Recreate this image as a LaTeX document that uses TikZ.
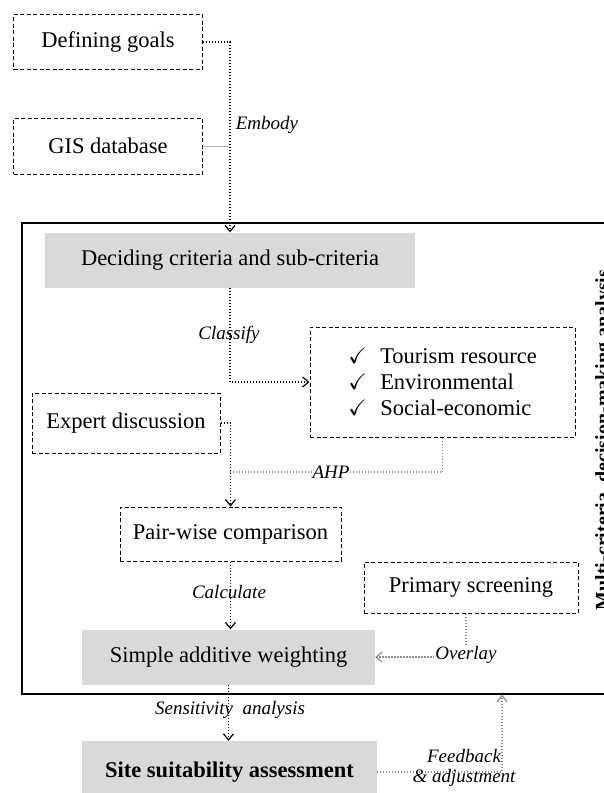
\documentclass[tikz,border=0pt]{standalone}
\usepackage{fontspec}
\setmainfont{Liberation Serif}
\usepackage{amssymb}
\usetikzlibrary{arrows.meta}
\definecolor{boxgray}{RGB}{217,217,217}
\definecolor{dotgray}{RGB}{140,140,140}
\begin{document}
\begin{tikzpicture}[x=1pt,y=-1pt,
  mainfont/.style={font=\fontsize{22.5}{26}\selectfont},
  dbox/.style={draw, dash pattern=on 4pt off 2.5pt, line width=1pt, mainfont, inner sep=0pt},
  gbox/.style={fill=boxgray, mainfont, inner sep=0pt},
  lbl/.style={font=\fontsize{19}{22}\selectfont\itshape, inner sep=1pt},
  tip/.style={-{Straight Barb[length=6pt,width=10pt,line width=1.2pt]}},
  dotb/.style={line width=1.1pt, dash pattern=on 1.1pt off 1.9pt},
  dotg/.style={line width=1.1pt, dash pattern=on 1.1pt off 1.9pt, draw=dotgray},
]
\useasboundingbox (0,0) rectangle (604,793);
% outer frame
\node[draw, line width=1.3pt, minimum width=600pt, minimum height=471pt, inner sep=0pt] (mcda) at (322,458.5) {};
\node[rotate=90, anchor=north, inner sep=0pt, font=\fontsize{20}{24}\selectfont\bfseries] (title) at (595,440) {Multi-criteria\ \ decision-making analysis};
% boxes
\node[dbox, minimum width=189pt, minimum height=55pt] (goals) at (108,42) {Defining goals};
\node[dbox, minimum width=189pt, minimum height=56pt] (gis) at (108,146) {GIS database};
\node[gbox, minimum width=370pt, minimum height=55pt] (decide) at (230,260) {Deciding criteria and sub-criteria};
\node[dbox, minimum width=265pt, minimum height=110pt, align=left] (crit) at (442.5,382)
  {\makebox[32pt][l]{$\checkmark$}Tourism resource\\
   \makebox[32pt][l]{$\checkmark$}Environmental\\
   \makebox[32pt][l]{$\checkmark$}Social-economic};
\node[dbox, minimum width=188pt, minimum height=60pt] (expert) at (126,423) {Expert discussion};
\node[dbox, minimum width=221pt, minimum height=54pt] (pair) at (230.5,534) {Pair-wise comparison};
\node[dbox, minimum width=214pt, minimum height=51pt] (prim) at (471,587.5) {Primary screening};
\node[gbox, minimum width=293pt, minimum height=55pt] (saw) at (228.5,657) {Simple additive weighting};
\node[gbox, minimum width=295pt, minimum height=62pt, font=\fontsize{22.5}{26}\selectfont\bfseries] (site) at (229.5,772) {Site suitability assessment};
% coordinates
\coordinate (ahpj) at (230,472);
\coordinate (ovx) at (466,587.5);
\coordinate (fbx) at (502,772);
% connectors
\draw[dotb, tip] (goals.east) -| (decide.north);
\draw[draw=dotgray!60, line width=0.8pt] (gis.east) -- (gis.east -| decide.north);
\draw[dotb, tip] (decide.south) |- (crit.west);
\draw[dotb, tip] (expert.east) -| (pair.north);
\draw[dotg] (crit.south) |- (ahpj);
\draw[dotb, tip] (pair.south) -- (pair.south |- saw.north);
\draw[dotg, tip] (ovx |- prim.south) |- (saw.east);
\draw[dotb, tip] (saw.south) -- (saw.south |- site.north);
\draw[dotg, tip] (site.east) -- (fbx) -- (fbx |- mcda.south);
% labels
\node[lbl] (embody) at (267,125) {Embody};
\node[lbl] (classify) at (229,335) {Classify};
\node[lbl, fill=white] (ahp) at (331,472) {AHP};
\node[lbl] (calc) at (229,592) {Calculate};
\node[lbl, fill=white] (overlay) at (466,655) {Overlay};
\node[lbl] (sens) at (230,710) {Sensitivity\ \ analysis};
\node[lbl] (feed) at (464,756) {Feedback};
\node[lbl] (adj) at (464,778) {\& adjustment};
\end{tikzpicture}
\end{document}
